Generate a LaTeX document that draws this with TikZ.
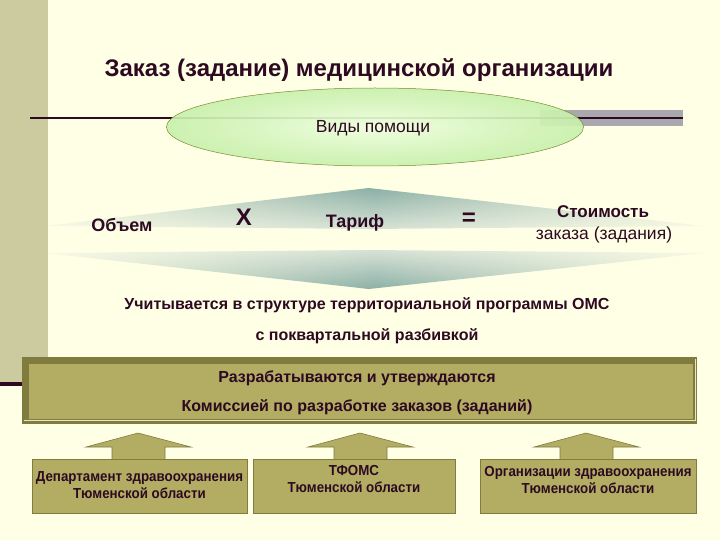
\documentclass[tikz,border=0pt]{standalone}
\usepackage{fontspec}
\setmainfont{Liberation Sans}
\newfontfamily\narrowsans[FakeStretch=0.92]{Liberation Sans}
\usetikzlibrary{fadings,shapes.geometric}
\definecolor{bg}{RGB}{255,255,230}
\definecolor{strip}{RGB}{204,203,160}
\definecolor{olive}{RGB}{178,173,98}
\definecolor{dolive}{RGB}{128,124,64}
\definecolor{txt}{RGB}{45,10,34}
\definecolor{greybar}{RGB}{168,168,174}
\definecolor{teal}{RGB}{140,176,166}
\definecolor{lteal}{RGB}{215,226,214}
\definecolor{elledge}{RGB}{200,240,172}
\definecolor{ellmid}{RGB}{238,254,222}
\tikzfading[name=hfade, left color=transparent!85, right color=transparent!85, middle color=transparent!0]
\tikzset{
  lbl/.style={text=txt, font=\bfseries\fontsize{18}{20}\selectfont, inner sep=0pt},
  boxtxt/.style={text=txt, font=\narrowsans\bfseries\fontsize{14.5}{17}\selectfont, align=center, inner sep=0pt},
  obox/.style={fill=olive, draw=dolive, line width=0.8pt},
  uparrow/.style={fill=olive, draw=dolive, line width=0.6pt}
}
\begin{document}
\begin{tikzpicture}[x=1pt,y=-1pt]
\useasboundingbox (0,0) rectangle (720,540);
\fill[bg] (0,0) rectangle (720,540);
\fill[strip] (0,0) rectangle (48,382);
\fill[txt] (0,382) rectangle (24,386);
% title
\node[text=txt, font=\bfseries\fontsize{24}{28}\selectfont, inner sep=0pt] (title) at (359,70) {Заказ (задание) медицинской организации};
% line and grey bar
\fill[greybar] (540,110) rectangle (683,126);
\coordinate (la) at (30,118);
\coordinate (lb) at (683,118);
\draw[txt, line width=1.2pt] (la) -- (lb);
% diamond halves
\path[top color=teal, bottom color=lteal, path fading=hfade, fit fading=true] (45,226) -- (369,188) -- (705,226) -- (369,229) -- cycle;
\path[top color=lteal, bottom color=teal, path fading=hfade, fit fading=true] (45,253) -- (369,250) -- (705,253) -- (369,289) -- cycle;
% ellipse
\node[ellipse, minimum width=417pt, minimum height=78pt, inner color=ellmid, outer color=elledge, fill opacity=0.92, draw={rgb,255:red,120;green,140;blue,50}, line width=0.5pt] (vid) at (375,127) {};
\node[text=txt, font=\fontsize{17.5}{20}\selectfont, inner sep=0pt] (vidt) at (373,128) {Виды помощи};
% formula row
\node[lbl] (obj) at (122,225) {Объем};
\node[lbl, font=\bfseries\fontsize{24}{26}\selectfont] (x) at (244,217) {Х};
\node[lbl] (tar) at (355,223) {Тариф};
\node[lbl, font=\bfseries\fontsize{24}{26}\selectfont] (eq) at (469,219) {=};
\node[lbl, font=\bfseries\fontsize{17}{20}\selectfont] (st1) at (603,212) {Стоимость};
\node[text=txt, font=\fontsize{17.5}{20}\selectfont, inner sep=0pt] (st2) at (604,235) {заказа (задания)};
% lines below
\node[lbl, font=\bfseries\fontsize{16}{18}\selectfont] (uch) at (367,305) {Учитывается в структуре территориальной программы ОМС};
\node[lbl, font=\bfseries\fontsize{16}{18}\selectfont] (kv) at (367,336) {с поквартальной разбивкой};
% big box
\fill[dolive] (22,357) rectangle (697,424);
\fill[olive] (29,364) rectangle (693,419);
\draw[bg!70!olive, line width=0.6pt] (24,420.5) -- (695,420.5) -- (695,359);
\node[lbl, font=\bfseries\fontsize{16}{18}\selectfont] (r1) at (357,378) {Разрабатываются и утверждаются};
\node[lbl, font=\bfseries\fontsize{16}{18}\selectfont] (r2) at (357,407) {Комиссией по разработке заказов (заданий)};
% arrows
\foreach \c in {138,360,586}{
  \draw[uparrow] (\c-26,460) -- (\c-26,447) -- (\c-52,447) -- (\c,433) -- (\c+53,447) -- (\c+27,447) -- (\c+27,460);
}
% boxes
\node[obox, minimum width=215pt, minimum height=54pt, inner sep=0pt] (b1) at (139.5,486.5) {};
\node[obox, minimum width=202pt, minimum height=54pt, inner sep=0pt] (b2) at (354,486.5) {};
\node[obox, minimum width=216pt, minimum height=54pt, inner sep=0pt] (b3) at (588,486.5) {};
\node[boxtxt] (t1) at (139.5,485) {Департамент здравоохранения\\Тюменской области};
\node[boxtxt] (t2) at (354,479) {ТФОМС\\Тюменской области};
\node[boxtxt] (t3) at (588,480) {Организации здравоохранения\\Тюменской области};
\end{tikzpicture}
\end{document}
